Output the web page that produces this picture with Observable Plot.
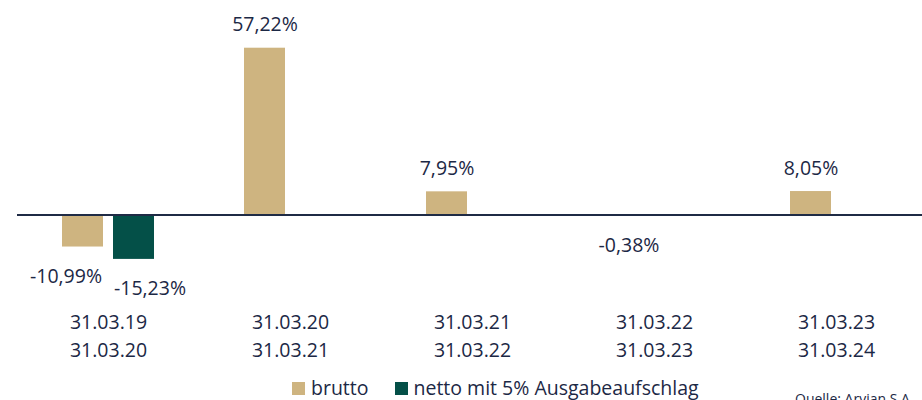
<!DOCTYPE html>
<html>
<head>
<meta charset="utf-8">
<script src="https://cdn.jsdelivr.net/npm/d3@7"></script>
<script src="https://cdn.jsdelivr.net/npm/@observablehq/plot@0.6"></script>
<style>
  html, body { margin: 0; padding: 0; background: #fff; overflow: hidden; }
  #wrap { position: relative; width: 922px; height: 400px; overflow: hidden; font-family: "Open Sans", sans-serif; color: #1c2845; }
  #chart svg { display: block; max-width: none !important; }
  #legend { position: absolute; left: 292px; top: 376px; display: flex; align-items: center; font-size: 19.5px; line-height: 24px; white-space: nowrap; }
  #legend .sw { width: 13px; height: 13px; display: inline-block; margin-right: 6px; }
  #legend .item { display: flex; align-items: center; margin-right: 26px; }
  #source { position: absolute; left: 795px; top: 392px; font-size: 14px; line-height: 1; white-space: nowrap; }
</style>
</head>
<body>
<div id="wrap">
  <div id="chart"></div>
  <div id="legend"></div>
  <div id="source">Quelle: Arvian S.A.</div>
</div>
<script>
// ---- data ----
const periodStart = ["31.03.19", "31.03.20", "31.03.21", "31.03.22", "31.03.23"];
const periodEnd   = ["31.03.20", "31.03.21", "31.03.22", "31.03.23", "31.03.24"];
const seriesNames = ["brutto", "netto mit 5% Ausgabeaufschlag"];
const brutto = [-10.99, 57.22, 7.95, -0.38, 8.05];
const netto  = [-15.23, null, null, null, null];
const seriesColors = ["#ceb480", "#045048"];

// ---- build table ----
const periods = periodStart.map((s, i) => `${s}\n${periodEnd[i]}`);
const rows = [];
periods.forEach((p, i) => {
  const both = brutto[i] != null && netto[i] != null;
  if (brutto[i] != null) rows.push({period: p, series: seriesNames[0], value: brutto[i], both});
  if (netto[i] != null) rows.push({period: p, series: seriesNames[1], value: netto[i], both});
});
const fmt = v => v.toFixed(2).replace(".", ",") + "%";
const ink = "#1c2845";

const labelOpts = (filter, dx, dy) => Plot.text(rows.filter(filter), {
  fx: "period", x: "series", y: "value", text: d => fmt(d.value),
  dx, dy, lineAnchor: "middle", fill: ink, fontSize: 19.5
});

const chart = Plot.plot({
  width: 930,
  height: 372,
  marginLeft: 15,
  marginRight: 2,
  marginTop: 39.6,
  marginBottom: 99.2,
  style: {fontFamily: "Open Sans, sans-serif", fontSize: "19.5px", color: ink, background: "#fff"},
  fx: {domain: periods, padding: 0, label: null},
  x: {domain: seriesNames, paddingInner: 0.2, paddingOuter: 0.865, axis: null},
  y: {domain: [-20, 60], axis: null},
  color: {domain: seriesNames, range: seriesColors},
  marks: [
    Plot.barY(rows, {fx: "period", x: "series", y: "value", fill: "series"}),
    Plot.ruleY([0], {stroke: "#1f2b45", strokeWidth: 2}),
    labelOpts(d => d.value > 0, 0, -23),
    labelOpts(d => d.value < 0 && !d.both, 0, 29.5),
    labelOpts(d => d.value < 0 && d.both && d.series === seriesNames[0], -17, 29.5),
    labelOpts(d => d.value < 0 && d.both && d.series === seriesNames[1], 16, 29.5),
    Plot.axisFx({anchor: "bottom", tickSize: 0, tickPadding: 36, lineHeight: 1.43, fontSize: 19.5, fill: ink, label: null})
  ]
});
document.getElementById("chart").appendChild(chart);

// ---- legend ----
const legend = document.getElementById("legend");
seriesNames.forEach((name, i) => {
  const item = document.createElement("div");
  item.className = "item";
  const sw = document.createElement("span");
  sw.className = "sw";
  sw.style.background = seriesColors[i];
  item.appendChild(sw);
  item.appendChild(document.createTextNode(name));
  legend.appendChild(item);
});
</script>
</body>
</html>
